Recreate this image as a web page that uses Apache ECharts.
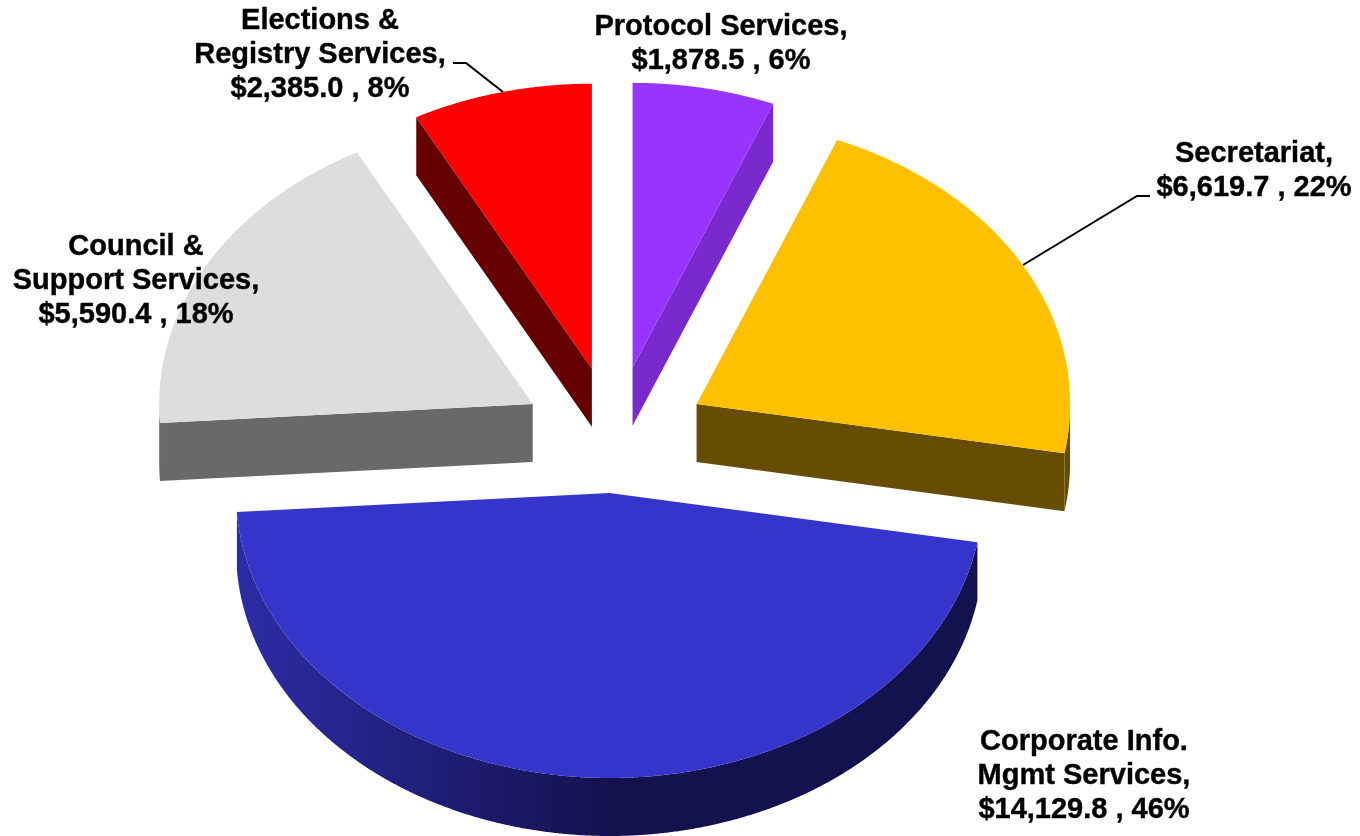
<!DOCTYPE html>
<html>
<head>
<meta charset="utf-8">
<title>Budget by service area</title>
<script src="https://cdn.jsdelivr.net/npm/echarts@6/dist/echarts.min.js"></script>
<style>
  html, body { margin: 0; padding: 0; background: #fff; }
  #chart { width: 1360px; height: 836px; }
</style>
</head>
<body>
<div id="chart"></div>
<script>
// Budget figures per service area, clockwise from 12 o'clock
const serviceAreas = [
  'Protocol Services,',
  'Secretariat,',
  'Corporate Info.\nMgmt Services,',
  'Council &\nSupport Services,',
  'Elections &\nRegistry Services,'
];
const budgetValues = [1878.5, 6619.7, 14129.8, 5590.4, 2385.0];

// Styling, one entry per slice
const topColors = ['#9933ff', '#ffc000', '#3535cc', '#dddddd', '#ff0000'];
const sideColors = ['#7a29cc', '#664d00', '#14124e', '#696969', '#660000'];

// Label anchors (centre of the text block)
const labelAnchors = [[721, 44], [1254, 171], [1084, 776], [136, 281], [320, 55]];

// Pie geometry: a tilted disc drawn as an ellipse with a visible thickness
const radiusX = 373.5;
const radiusY = 285;
const thickness = 58;
const totalBudget = budgetValues.reduce((a, b) => a + b, 0);
const RAD = Math.PI / 180;

// Where a slice's apex lands after being pulled out along its mid angle
function explodedApex(midDeg) {
  const s = Math.sin(midDeg * RAD);
  const c = Math.cos(midDeg * RAD);
  return [614.6 + 93.7 * s, 436.2 - 63.3 * c - 6.44 * c * c];
}

function rimPoint(apex, deg, drop) {
  return [
    apex[0] + radiusX * Math.sin(deg * RAD),
    apex[1] - radiusY * Math.cos(deg * RAD) + (drop || 0)
  ];
}

function arcPoints(apex, from, to, drop) {
  const pts = [];
  const steps = Math.max(2, Math.ceil((to - from) * 4));
  for (let i = 0; i <= steps; i++) {
    pts.push(rimPoint(apex, from + (to - from) * i / steps, drop));
  }
  return pts;
}

function renderSlice(params, api) {
  const i = params.dataIndex;
  const value = api.value(0);
  let before = 0;
  for (let k = 0; k < i; k++) before += budgetValues[k];
  const start = before / totalBudget * 360;
  const end = start + value / totalBudget * 360;
  const apex = explodedApex((start + end) / 2);
  const apexLow = [apex[0], apex[1] + thickness];
  const children = [];

  // Radial cut faces, only when they turn towards the viewer
  const cutFace = deg => ({
    type: 'polygon',
    shape: { points: [apex, rimPoint(apex, deg), rimPoint(apex, deg, thickness), apexLow] },
    style: { fill: sideColors[i] }
  });
  if (Math.sin(end * RAD) > 0) children.push(cutFace(end));
  if (Math.sin(start * RAD) < 0) children.push(cutFace(start));

  // Outer rim on the front half of the disc
  const rimFrom = Math.max(start, 90);
  const rimTo = Math.min(end, 270);
  if (rimTo > rimFrom) {
    const rimFill = i === 2
      ? new echarts.graphic.LinearGradient(238, 0, 610, 0, [
          { offset: 0, color: '#2c2ca6' },
          { offset: 1, color: sideColors[i] }
        ], true)
      : sideColors[i];
    children.push({
      type: 'polygon',
      shape: {
        points: arcPoints(apex, rimFrom, rimTo, 0)
          .concat(arcPoints(apex, rimFrom, rimTo, thickness).reverse())
      },
      style: { fill: rimFill }
    });
  }

  // Top face
  children.push({
    type: 'polygon',
    shape: { points: [apex].concat(arcPoints(apex, start, end, 0)) },
    style: { fill: topColors[i] }
  });

  // Data label: name, amount and share
  const amount = '$' + value.toLocaleString('en-US', { minimumFractionDigits: 1, maximumFractionDigits: 1 });
  const share = Math.round(value / totalBudget * 100) + '%';
  children.push({
    type: 'text',
    style: {
      text: serviceAreas[i] + '\n' + amount + ' , ' + share,
      x: labelAnchors[i][0],
      y: labelAnchors[i][1],
      fill: '#000',
      stroke: '#000',
      lineWidth: 0.4,
      font: 'bold 29px "Liberation Sans", Arial, sans-serif',
      lineHeight: 34,
      align: 'center',
      verticalAlign: 'middle'
    }
  });

  return { type: 'group', children };
}

const leaderLines = [
  [[453, 63], [466, 63], [503, 92]],
  [[1150, 196], [1137, 196], [1023, 265]]
];

const chart = echarts.init(document.getElementById('chart'), null, { renderer: 'canvas' });
chart.setOption({
  animation: false,
  backgroundColor: '#ffffff',
  series: [{
    type: 'custom',
    coordinateSystem: 'none',
    renderItem: renderSlice,
    data: budgetValues.map(v => [v]),
    silent: true
  }],
  graphic: leaderLines.map(points => ({
    type: 'polyline',
    shape: { points },
    style: { stroke: '#000', lineWidth: 2, fill: null },
    silent: true
  }))
});
</script>
</body>
</html>
